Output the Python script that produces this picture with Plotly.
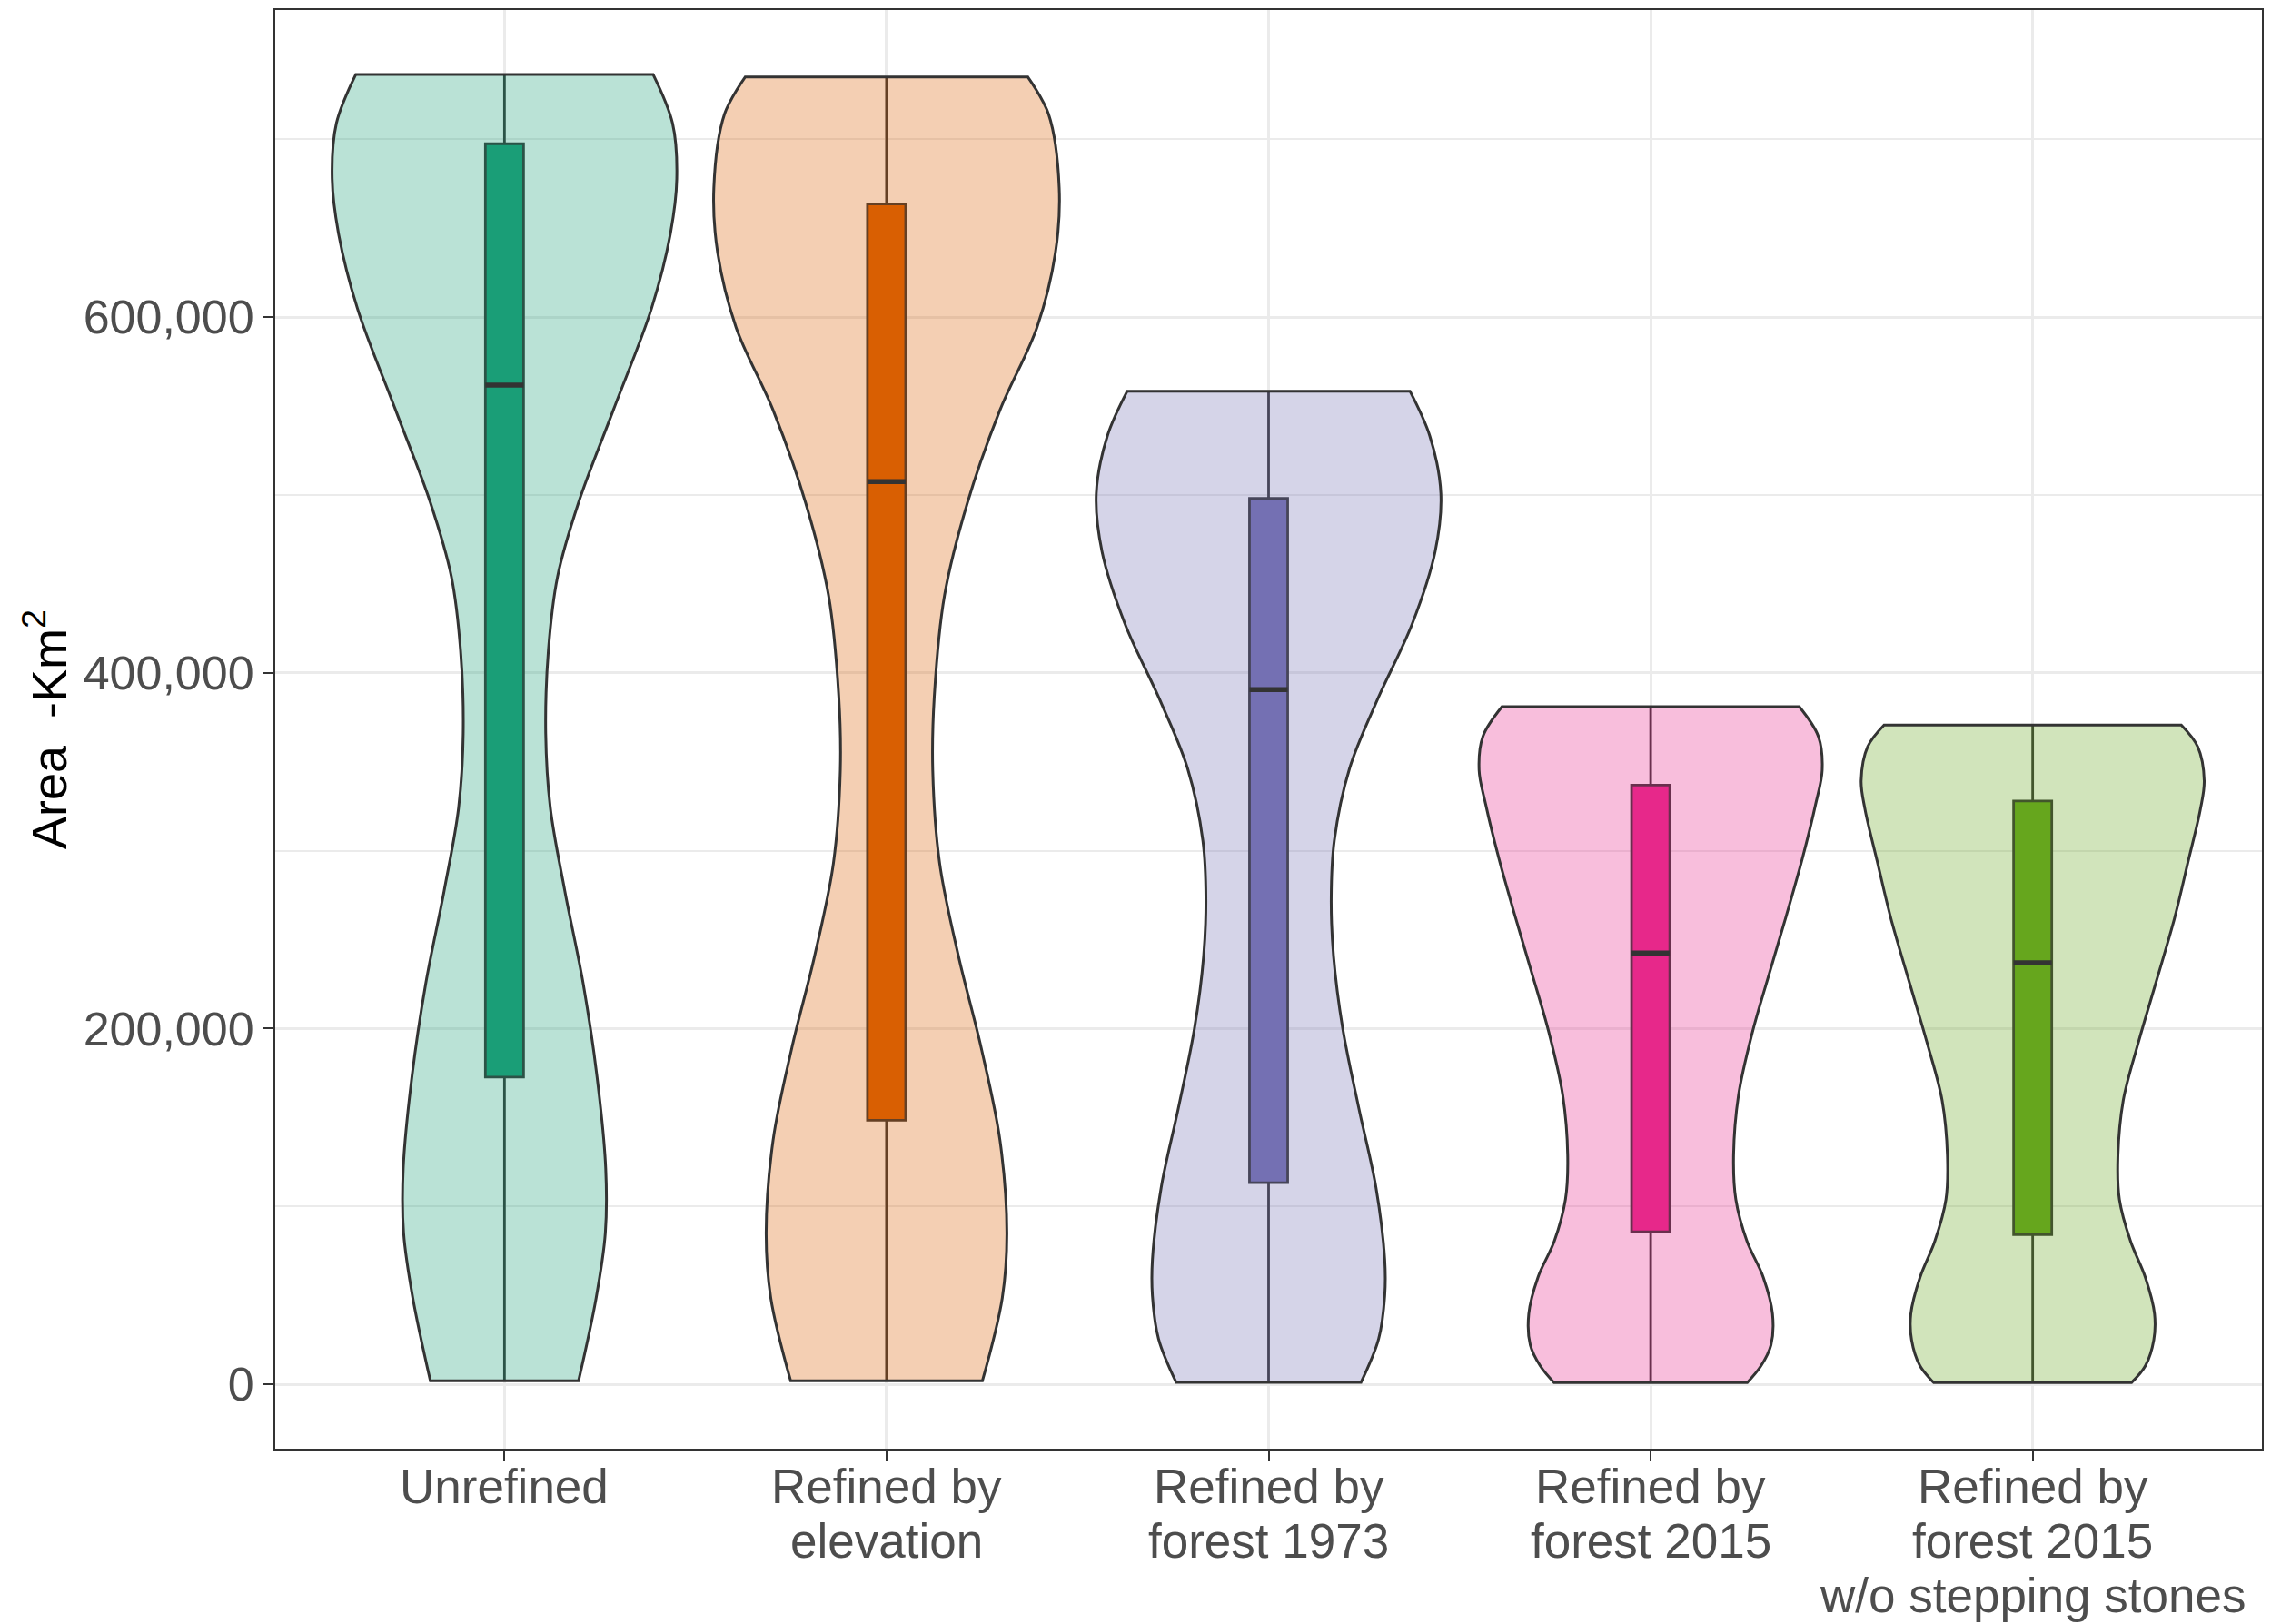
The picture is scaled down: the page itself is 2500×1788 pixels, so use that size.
import plotly.graph_objects as go

# categories (x) and their tick labels
labels = ["Unrefined", "Refined by<br>elevation", "Refined by<br>forest 1973",
          "Refined by<br>forest 2015", "Refined by<br>forest 2015<br>w/o stepping stones"]

# violin outlines: area levels (km2) and half-width (in category units)
unrefined_area = [2000, 48600, 85100, 121400, 173400, 225400, 277400, 324200, 365800,
                  412700, 454200, 495800, 547800, 605000, 646600, 677800, 708900, 736500]
unrefined_width = [0.194, 0.240, 0.264, 0.265, 0.242, 0.206, 0.158, 0.120, 0.108,
                   0.115, 0.139, 0.194, 0.285, 0.385, 0.434, 0.451, 0.440, 0.389]

elevation_area = [2000, 48600, 85100, 137100, 189000, 241000, 293000, 345000, 386700,
                  443800, 495800, 547800, 594400, 636200, 672600, 714200, 735000]
elevation_width = [0.251, 0.303, 0.315, 0.297, 0.248, 0.188, 0.139, 0.121, 0.125,
                   0.152, 0.212, 0.297, 0.394, 0.442, 0.452, 0.424, 0.370]

forest1973_area = [1100, 25500, 49800, 70100, 110800, 155400, 200100, 240800, 273200,
                   305700, 346300, 385000, 427600, 468200, 500800, 533200, 558400]
forest1973_width = [0.242, 0.288, 0.304, 0.304, 0.281, 0.236, 0.194, 0.170, 0.164,
                    0.172, 0.212, 0.285, 0.376, 0.436, 0.451, 0.422, 0.370]

forest2015_area = [1000, 10400, 22100, 39600, 60100, 80600, 104000, 127400, 162500,
                   197600, 229800, 263400, 295500, 326300, 345300, 364300, 381000]
forest2015_width = [0.253, 0.289, 0.315, 0.319, 0.295, 0.252, 0.223, 0.217, 0.230,
                    0.266, 0.309, 0.355, 0.397, 0.432, 0.449, 0.439, 0.389]

nostones_area = [1000, 10400, 25000, 39600, 60100, 80600, 104000, 127400, 159500,
                 191700, 226900, 261900, 294100, 323400, 339400, 358500, 370700]
nostones_width = [0.259, 0.295, 0.317, 0.319, 0.295, 0.256, 0.227, 0.223, 0.237,
                  0.276, 0.324, 0.371, 0.407, 0.439, 0.449, 0.432, 0.389]

# box plot statistics
box_min = [2000, 2000, 1100, 1000, 1000]
box_q1 = [172700, 148500, 113400, 85800, 84200]
box_median = [561800, 507500, 390600, 242500, 237000]
box_q3 = [697500, 663600, 498100, 336900, 328000]
box_max = [736500, 735000, 558400, 381000, 370700]

colors = ["#1B9E77", "#D95F02", "#7570B3", "#E7298A", "#66A61E"]

violins = [(unrefined_area, unrefined_width), (elevation_area, elevation_width),
           (forest1973_area, forest1973_width), (forest2015_area, forest2015_width),
           (nostones_area, nostones_width)]


def rgba(hex_color, alpha):
    h = hex_color.lstrip("#")
    return "rgba(%d,%d,%d,%s)" % (int(h[0:2], 16), int(h[2:4], 16), int(h[4:6], 16), alpha)


def violin_path(pos, area, width):
    # doubled corner points keep the flat trimmed ends sharp under spline smoothing
    n = len(area)
    xs, ys = [pos + width[0]], [area[0]]
    for k in range(n):
        xs.append(pos + width[k]); ys.append(area[k])
    xs.append(pos + width[-1]); ys.append(area[-1])
    xs.append(pos - width[-1]); ys.append(area[-1])
    for k in range(n - 1, -1, -1):
        xs.append(pos - width[k]); ys.append(area[k])
    xs.append(pos - width[0]); ys.append(area[0])
    xs += [pos + width[0], pos + width[0]]
    ys += [area[0], area[0]]
    return xs, ys


fig = go.Figure()
outline = "#333333"

for i, (area, width) in enumerate(violins):
    xs, ys = violin_path(i + 1, area, width)
    fig.add_trace(go.Scatter(x=xs, y=ys, mode="lines", fill="toself",
                             fillcolor=rgba(colors[i], 0.3),
                             line=dict(color=outline, width=3, shape="spline", smoothing=1.0,
                                       simplify=False),
                             showlegend=False, hoverinfo="skip"))

for i in range(len(labels)):
    fig.add_trace(go.Box(x=[i + 1], q1=[box_q1[i]], median=[box_median[i]], q3=[box_q3[i]],
                         lowerfence=[box_min[i]], upperfence=[box_max[i]],
                         width=0.1, fillcolor=colors[i], line=dict(color=outline, width=2.8),
                         whiskerwidth=0, boxpoints=False, showlegend=False))
    # thicker median line like ggplot
    fig.add_shape(type="line", x0=i + 1 - 0.05, x1=i + 1 + 0.05, y0=box_median[i], y1=box_median[i],
                  line=dict(color=outline, width=5.5), layer="above")

# multi-line category labels with tighter spacing than plotly's tick labels
for i, lab in enumerate(labels):
    for j, line in enumerate(lab.split("<br>")):
        fig.add_annotation(x=i + 1, y=0, xref="x", yref="paper", text=line, showarrow=False,
                           xanchor="center", yanchor="middle", yshift=-41 - 60 * j,
                           font=dict(size=53, color="#4D4D4D"))

fig.add_annotation(x=-0.1157, y=0.5, xref="paper", yref="paper", text="Area\u00a0\u00a0-Km<sup>2</sup>",
                   textangle=-90, showarrow=False, xanchor="center", yanchor="middle",
                   font=dict(size=54, color="black"))

# the page body adds an 8px offset, so the figure is 8px smaller than the window
fig.update_layout(
    width=2492, height=1780,
    margin=dict(l=295, r=10, t=1, b=193),
    paper_bgcolor="white", plot_bgcolor="white",
    font=dict(family="Liberation Sans, Arial, sans-serif", size=52, color="#4D4D4D"),
    showlegend=False,
)
fig.update_xaxes(range=[0.4, 5.6], tickvals=[1, 2, 3, 4, 5], showticklabels=False,
                 ticks="outside", ticklen=11, tickwidth=2, tickcolor=outline,
                 showgrid=True, gridcolor="#EBEBEB", gridwidth=2.5, zeroline=False,
                 showline=True, mirror=True, linecolor=outline, linewidth=2)
fig.update_yaxes(range=[-36200, 772700], tickvals=[0, 200000, 400000, 600000], tickformat=",",
                 ticks="outside", ticklen=11, tickwidth=2, tickcolor=outline,
                 tickfont=dict(size=52, color="#4D4D4D"),
                 showgrid=True, gridcolor="#EBEBEB", gridwidth=2.5, zeroline=False,
                 minor=dict(tickvals=[100000, 300000, 500000, 700000], showgrid=True,
                            gridcolor="#EBEBEB", gridwidth=1.5, ticks=""),
                 showline=True, mirror=True, linecolor=outline, linewidth=2)

fig.write_html("out.html")
